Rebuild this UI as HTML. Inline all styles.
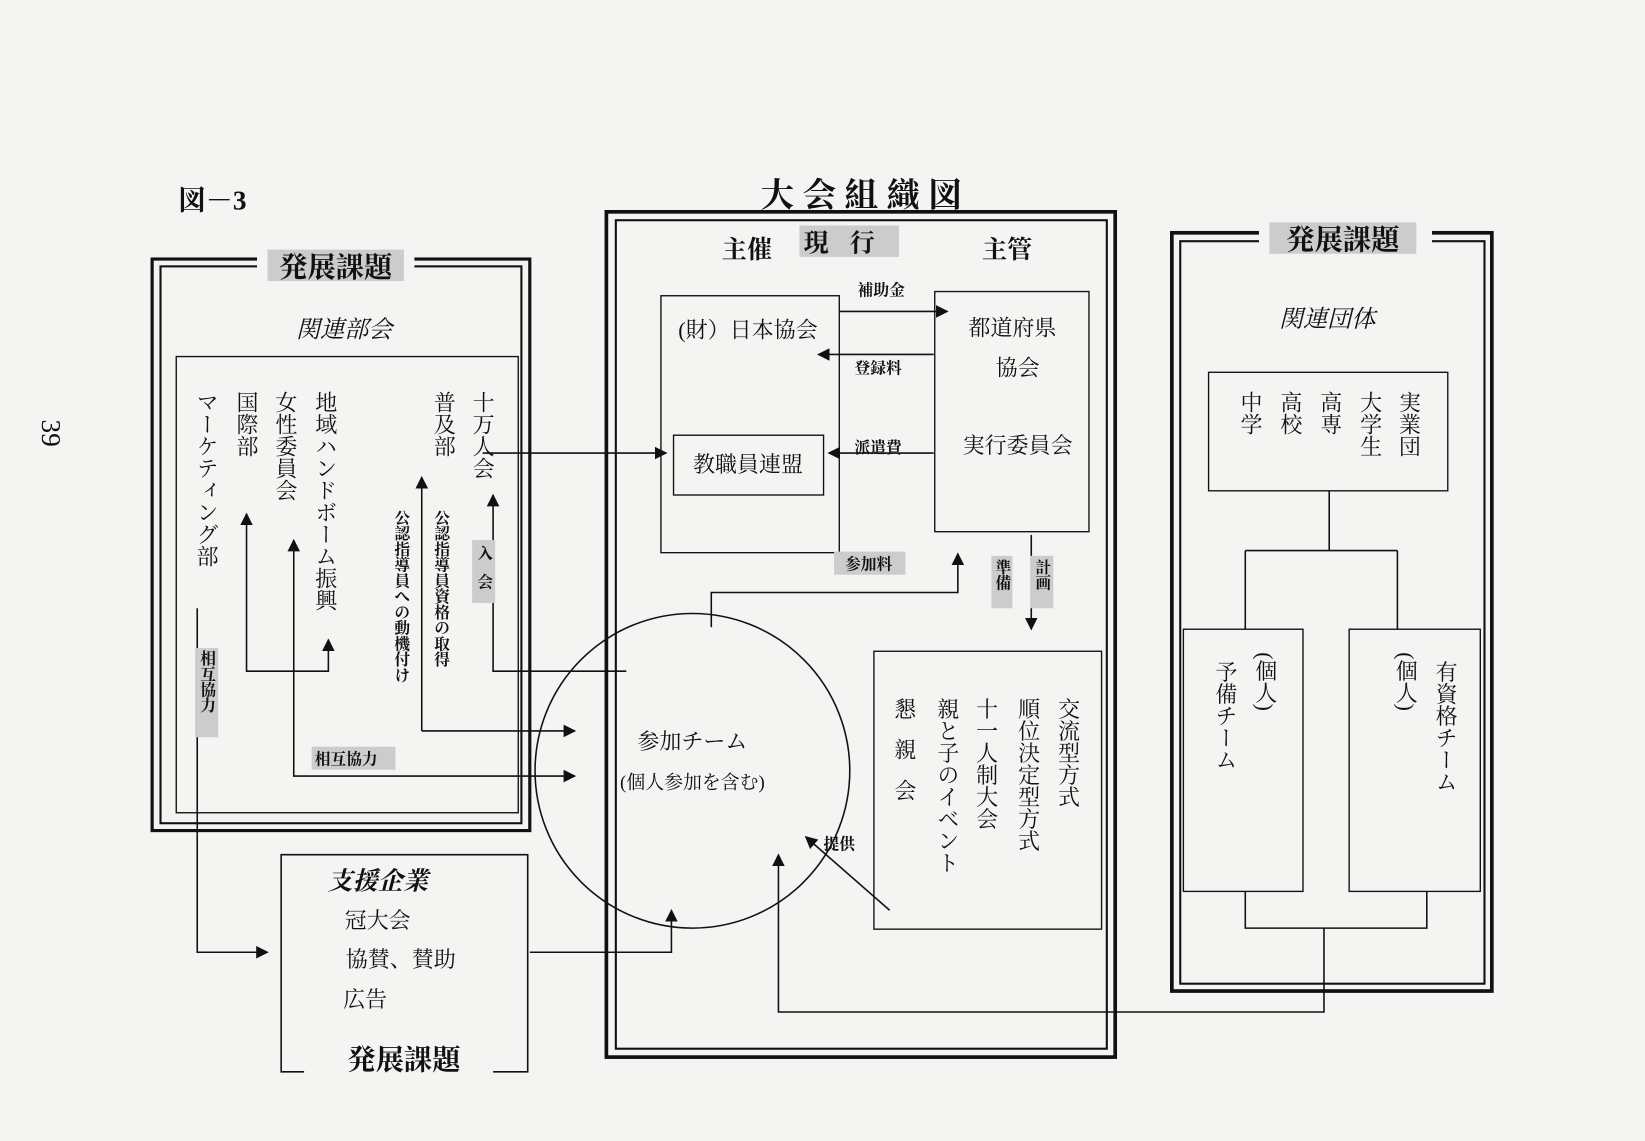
<!DOCTYPE html>
<html><head><meta charset="utf-8"><style>
html,body{margin:0;padding:0;background:#f4f4f2;}
svg{display:block}
text{font-family:"Liberation Serif","Noto Serif CJK SC","Noto Sans CJK JP",serif;fill:#111}
.v{writing-mode:vertical-rl;glyph-orientation-vertical:0}
.b{font-weight:bold}
</style></head><body>
<svg width="1645" height="1141" viewBox="0 0 1568 1088" preserveAspectRatio="none" xmlns="http://www.w3.org/2000/svg">
<defs><marker id="a" viewBox="0 0 10 10" refX="9" refY="5" markerWidth="12" markerHeight="12" markerUnits="userSpaceOnUse" orient="auto-start-reverse"><path d="M0,0L10,5L0,10z" fill="#111"/></marker></defs>
<rect width="1568" height="1088" fill="#f4f4f2"/>
<g stroke="#111" fill="none">
<rect x="145" y="247" width="360" height="545" stroke-width="3"/>
<rect x="153" y="254" width="344" height="531" stroke-width="2"/>
<rect x="168" y="340" width="326" height="435" stroke-width="1.3"/>
<rect x="578" y="202" width="485" height="806" stroke-width="3.5"/>
<rect x="587" y="210" width="468" height="790" stroke-width="2"/>
<rect x="630" y="282" width="170" height="245" stroke-width="1.3"/>
<rect x="642" y="415" width="143" height="57" stroke-width="1.3"/>
<rect x="891" y="278" width="147" height="229" stroke-width="1.3"/>
<rect x="833" y="621" width="217" height="265" stroke-width="1.3"/>
<circle cx="660" cy="735" r="150" stroke-width="1.5"/>
<rect x="1117" y="222" width="305" height="723" stroke-width="3.5"/>
<rect x="1125" y="230" width="290" height="708" stroke-width="2"/>
<rect x="1152" y="355" width="228" height="113" stroke-width="1.3"/>
<rect x="1128" y="600" width="114" height="250" stroke-width="1.3"/>
<rect x="1286" y="600" width="125" height="250" stroke-width="1.3"/>
<path d="M290,1022H268V815H503V1022H470" stroke-width="1.5"/>
<g stroke-width="1.5">
<path d="M460,432H635" marker-end="url(#a)"/>
<path d="M402,697H548" marker-end="url(#a)"/>
<path d="M402,697V455" marker-end="url(#a)"/>
<path d="M597,640H470V472" marker-end="url(#a)"/>
<path d="M235,490V640H313V610" marker-start="url(#a)" marker-end="url(#a)"/>
<path d="M280,515V740H548" marker-start="url(#a)" marker-end="url(#a)"/>
<path d="M188,580V908H255" marker-end="url(#a)"/>
<path d="M800,297H903" marker-end="url(#a)"/>
<path d="M890,338H780" marker-end="url(#a)"/>
<path d="M890,432H790" marker-end="url(#a)"/>
<path d="M678,598V565H913V528" marker-end="url(#a)"/>
<path d="M983,510V600" marker-end="url(#a)"/>
<path d="M848,868L768,798" marker-end="url(#a)"/>
<path d="M505,908H640V868" marker-end="url(#a)"/>
<path d="M1267,468V525M1187,525H1332M1187,525V600M1332,525V600"/>
<path d="M1187,850V885H1360V850M1262,885V965H742V815" marker-end="url(#a)"/>
</g>
</g>
<g fill="#ccc">
<rect x="245" y="236" width="150" height="32" fill="#f4f4f2"/>
<rect x="255" y="238" width="130" height="30"/>
<rect x="1200" y="212" width="165" height="30" fill="#f4f4f2"/>
<rect x="1210" y="212" width="140" height="30"/>
<rect x="762" y="215" width="95" height="30"/>
<rect x="290" y="1005" width="180" height="30" fill="#f4f4f2"/>
<rect x="450" y="515" width="22" height="60"/>
<rect x="186" y="618" width="22" height="85"/>
<rect x="297" y="712" width="80" height="22"/>
<rect x="795" y="526" width="68" height="22"/>
<rect x="945" y="530" width="20" height="50"/>
<rect x="982" y="530" width="22" height="50"/>
</g>
<text x="170" y="200" font-size="26" class="b">図－3</text>
<text x="825" y="197" font-size="32" class="b" text-anchor="middle" letter-spacing="8">大会組織図</text>
<text x="320" y="264" font-size="27" class="b" text-anchor="middle">発展課題</text>
<text x="1280" y="238" font-size="27" class="b" text-anchor="middle">発展課題</text>
<text x="385" y="1020" font-size="27" class="b" text-anchor="middle">発展課題</text>
<text x="328" y="322" font-size="23" font-style="italic" text-anchor="middle">関連部会</text>
<text x="1265" y="312" font-size="23" font-style="italic" text-anchor="middle">関連団体</text>
<text x="712" y="246" font-size="24" class="b" text-anchor="middle">主催</text>
<text x="810" y="240" font-size="24" class="b" text-anchor="middle" letter-spacing="20">現行</text>
<text x="960" y="246" font-size="24" class="b" text-anchor="middle">主管</text>
<g font-size="21">
<text x="197" y="373" class="v">マーケティング部</text>
<text x="235" y="373" class="v">国際部</text>
<text x="272" y="373" class="v">女性委員会</text>
<text x="310" y="373" class="v">地域ハンドボーム振興</text>
<text x="423" y="373" class="v">普及部</text>
<text x="460" y="373" class="v">十万人会</text>
<text x="713" y="322" text-anchor="middle">(財）日本協会</text>
<text x="713" y="450" text-anchor="middle">教職員連盟</text>
<text x="965" y="320" text-anchor="middle">都道府県</text>
<text x="970" y="358" text-anchor="middle">協会</text>
<text x="970" y="432" text-anchor="middle">実行委員会</text>
<text x="1018" y="665" class="v">交流型方式</text>
<text x="980" y="665" class="v">順位決定型方式</text>
<text x="940" y="665" class="v">十一人制大会</text>
<text x="903" y="665" class="v">親と子のイベント</text>
<text x="862" y="665" class="v" letter-spacing="18">懇親会</text>
<text x="660" y="714" text-anchor="middle">参加チーム</text>
<text x="660" y="752" text-anchor="middle" font-size="18">(個人参加を含む)</text>
<text x="360" y="885" text-anchor="middle">冠大会</text>
<text x="382" y="922" text-anchor="middle">協賛、賛助</text>
<text x="348" y="960" text-anchor="middle">広告</text>
<text x="1343" y="373" class="v">実業団</text>
<text x="1306" y="373" class="v">大学生</text>
<text x="1268" y="373" class="v">高専</text>
<text x="1230" y="373" class="v">高校</text>
<text x="1192" y="373" class="v">中学</text>
<text x="1168" y="630" class="v">予備チーム</text>
<text x="1206" y="622" class="v">(個人)</text>
<text x="1378" y="630" class="v">有資格チーム</text>
<text x="1340" y="622" class="v">(個人)</text>
</g>
<text x="360" y="848" font-size="24" class="b" font-style="italic" text-anchor="middle">支援企業</text>
<g font-size="15" class="b">
<text x="382" y="486" class="v">公認指導員への動機付け</text>
<text x="420" y="486" class="v">公認指導員資格の取得</text>
<text x="461" y="520" class="v" letter-spacing="12">入会</text>
<text x="197" y="620" class="v">相互協力</text>
<text x="300" y="729">相互協力</text>
<text x="828" y="543" text-anchor="middle">参加料</text>
<text x="955" y="533" class="v">準備</text>
<text x="993" y="533" class="v">計画</text>
<text x="840" y="282" text-anchor="middle">補助金</text>
<text x="837" y="356" text-anchor="middle">登録料</text>
<text x="837" y="432" text-anchor="middle">派遣費</text>
<text x="800" y="810" text-anchor="middle">提供</text>
</g>
<text x="20" y="400" font-size="26" transform="rotate(90 30 410)">39</text>
</svg>
</body></html>
